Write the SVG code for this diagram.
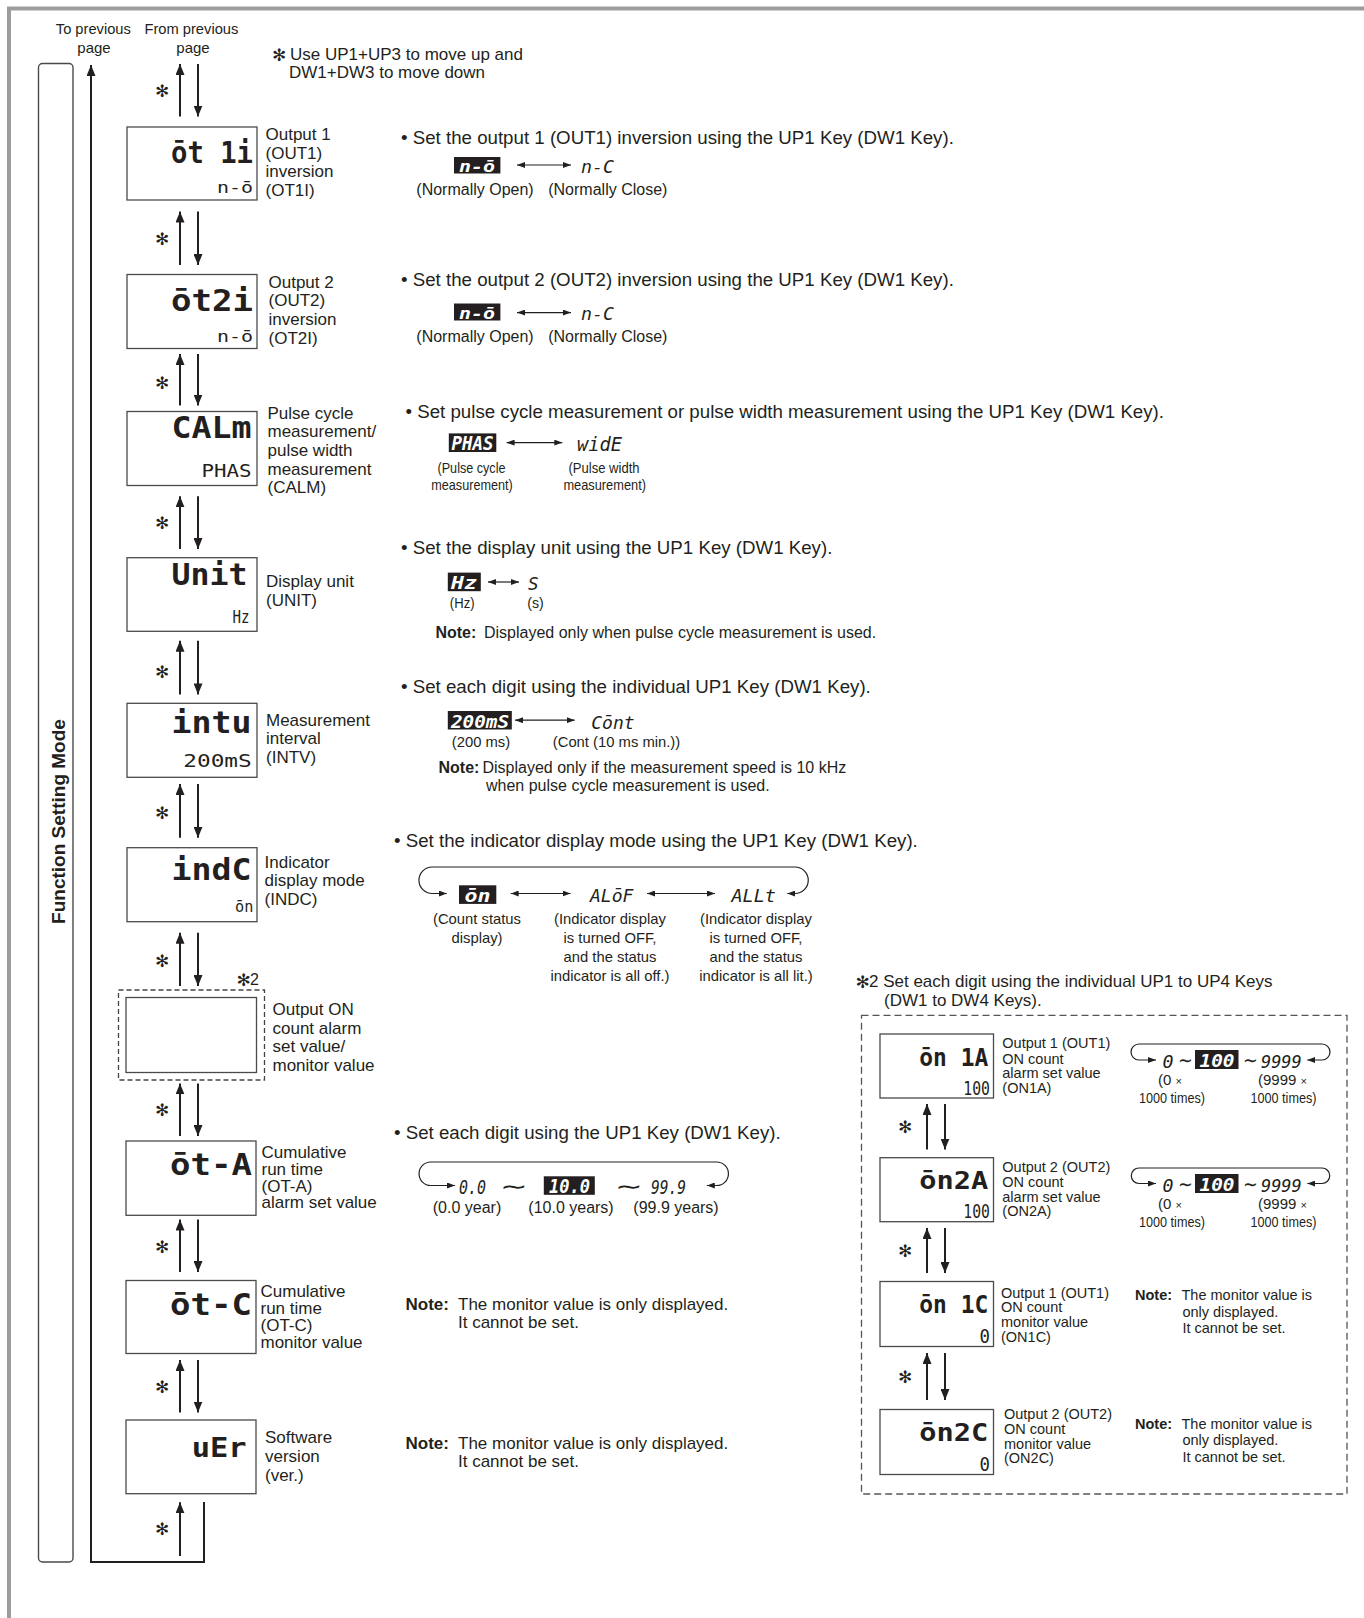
<svg xmlns="http://www.w3.org/2000/svg" width="1364" height="1618" viewBox="0 0 1364 1618">
<defs>
<marker id="ah" markerUnits="userSpaceOnUse" markerWidth="11" markerHeight="9" refX="11" refY="4.5" orient="auto"><path d="M0,0 L11,4.5 L0,9 z" fill="#231f20"/></marker>
<marker id="sh" markerUnits="userSpaceOnUse" markerWidth="8" markerHeight="6" refX="8" refY="3" orient="auto-start-reverse"><path d="M0,0 L8,3 L0,6 z" fill="#231f20"/></marker>
<style>
.t{font-family:"Liberation Sans",Arial,sans-serif;fill:#231f20}
.h{font-size:18.7px}
.lb{font-size:17px}
.c16{font-size:16px}
.c15{font-size:15px}
.c14{font-size:14.8px}
.r{font-size:14.5px}
.b{font-weight:bold}
.m{text-anchor:middle}
.ast{font-family:"DejaVu Sans",sans-serif;fill:#231f20;font-size:17px;text-anchor:middle}
.lcd{font-family:"DejaVu Sans Mono",monospace;font-weight:bold;fill:#231f20}
.ls{font-weight:normal}
.it{font-style:italic}
.w{fill:#fff}
.box{fill:#fff;stroke:#4a4a4a;stroke-width:1.3}
.inv{fill:#231f20}
.arr{stroke:#231f20;stroke-width:2;fill:none;marker-end:url(#ah)}
.sa{stroke:#231f20;stroke-width:1.2;fill:none;marker-start:url(#sh);marker-end:url(#sh)}
.dash{fill:none;stroke:#444;stroke-width:1.3;stroke-dasharray:5 3}
.dash2{fill:none;stroke:#555;stroke-width:1.3;stroke-dasharray:7 4}
</style>
</defs>
<rect width="1364" height="1618" fill="#fff"/>
<path d="M9,1618 V8.5 H1364" stroke="#9d9d9d" stroke-width="4" fill="none"/>

<g id="mode-bar">
<rect x="38.5" y="63.5" width="34.5" height="1498.5" rx="4" fill="none" stroke="#4a4a4a" stroke-width="1.4"/>
<text class="t b" font-size="19" text-anchor="middle" transform="translate(64.5,821.5) rotate(-90)">Function Setting Mode</text>
</g>

<g id="header-text">
<text class="t c15 m" x="93.3" y="33.5" textLength="75" lengthAdjust="spacingAndGlyphs">To previous</text>
<text class="t c15 m" x="94" y="53">page</text>
<text class="t c15 m" x="191.4" y="33.5" textLength="94" lengthAdjust="spacingAndGlyphs">From previous</text>
<text class="t c15 m" x="193" y="53">page</text>
<text class="ast" x="279" y="60.5" font-size="17">✻</text>
<text class="t lb" x="290" y="60">Use UP1+UP3 to move up and</text>
<text class="t lb" x="289" y="78">DW1+DW3 to move down</text>
</g>

<g id="connectors">
<path class="arr" d="M204,1502 V1562 H91 V65"/>
<line class="arr" x1="180" y1="116.6" x2="180" y2="64"/>
<line class="arr" x1="198" y1="64" x2="198" y2="116.6"/>
<line class="arr" x1="180" y1="265" x2="180" y2="211.5"/>
<line class="arr" x1="198" y1="211.5" x2="198" y2="265"/>
<line class="arr" x1="180" y1="405.5" x2="180" y2="354"/>
<line class="arr" x1="198" y1="354" x2="198" y2="405.5"/>
<line class="arr" x1="180" y1="549" x2="180" y2="496.3"/>
<line class="arr" x1="198" y1="496.3" x2="198" y2="549"/>
<line class="arr" x1="180" y1="694.4" x2="180" y2="640.7"/>
<line class="arr" x1="198" y1="640.7" x2="198" y2="694.4"/>
<line class="arr" x1="180" y1="837.8" x2="180" y2="784"/>
<line class="arr" x1="198" y1="784" x2="198" y2="837.8"/>
<line class="arr" x1="180" y1="986" x2="180" y2="932.7"/>
<line class="arr" x1="198" y1="932.7" x2="198" y2="986"/>
<line class="arr" x1="180" y1="1136" x2="180" y2="1083.4"/>
<line class="arr" x1="198" y1="1083.4" x2="198" y2="1136"/>
<line class="arr" x1="180" y1="1272" x2="180" y2="1219.5"/>
<line class="arr" x1="198" y1="1219.5" x2="198" y2="1272"/>
<line class="arr" x1="180" y1="1412.5" x2="180" y2="1360"/>
<line class="arr" x1="198" y1="1360" x2="198" y2="1412.5"/>
<line class="arr" x1="180" y1="1556" x2="180" y2="1502.3"/>
<line class="arr" x1="927" y1="1149.5" x2="927" y2="1104"/>
<line class="arr" x1="945" y1="1104" x2="945" y2="1149.5"/>
<line class="arr" x1="927" y1="1273" x2="927" y2="1228"/>
<line class="arr" x1="945" y1="1228" x2="945" y2="1273"/>
<line class="arr" x1="927" y1="1400" x2="927" y2="1353"/>
<line class="arr" x1="945" y1="1353" x2="945" y2="1400"/>
<g class="ast">
<text x="162" y="97">✻</text><text x="162" y="244.5">✻</text><text x="162" y="389">✻</text><text x="162" y="529">✻</text>
<text x="162" y="678">✻</text><text x="162" y="819">✻</text><text x="162" y="967">✻</text><text x="162" y="1116">✻</text>
<text x="162" y="1252.5">✻</text><text x="162" y="1393">✻</text><text x="162" y="1535">✻</text>
<text x="905" y="1133">✻</text><text x="905" y="1256.5">✻</text><text x="905" y="1382.5">✻</text>
</g>
</g>

<g id="n-ot1i">
<rect class="box" x="127" y="127" width="130" height="73"/>
<text class="lcd" x="171" y="163" font-size="30" textLength="82" lengthAdjust="spacingAndGlyphs">ōt 1i</text>
<text class="lcd ls" x="217" y="193" font-size="15" textLength="36" lengthAdjust="spacingAndGlyphs">n-ō</text>
<text class="t lb" x="265.5" y="140">Output 1</text>
<text class="t lb" x="265.5" y="158.6">(OUT1)</text>
<text class="t lb" x="265.5" y="177.2">inversion</text>
<text class="t lb" x="265.5" y="195.8">(OT1I)</text>
</g>
<g id="n-ot2i">
<rect class="box" x="127" y="274.5" width="130" height="74"/>
<text class="lcd" x="171" y="311" font-size="30" textLength="82" lengthAdjust="spacingAndGlyphs">ōt2i</text>
<text class="lcd ls" x="217" y="341.5" font-size="15" textLength="36" lengthAdjust="spacingAndGlyphs">n-ō</text>
<text class="t lb" x="268.5" y="287.7">Output 2</text>
<text class="t lb" x="268.5" y="306.3">(OUT2)</text>
<text class="t lb" x="268.5" y="324.9">inversion</text>
<text class="t lb" x="268.5" y="343.5">(OT2I)</text>
</g>
<g id="n-calm">
<rect class="box" x="127" y="411.5" width="130" height="74"/>
<text class="lcd" x="171.5" y="438.3" font-size="30" textLength="80" lengthAdjust="spacingAndGlyphs">CALm</text>
<text class="lcd ls" x="201.5" y="477.3" font-size="18" textLength="50" lengthAdjust="spacingAndGlyphs">PHAS</text>
<text class="t lb" x="267.5" y="418.7">Pulse cycle</text>
<text class="t lb" x="267.5" y="437.3">measurement/</text>
<text class="t lb" x="267.5" y="455.9">pulse width</text>
<text class="t lb" x="267.5" y="474.5">measurement</text>
<text class="t lb" x="267.5" y="493.1">(CALM)</text>
</g>
<g id="n-unit">
<rect class="box" x="127" y="557.7" width="130" height="73.6"/>
<text class="lcd" x="171.5" y="585" font-size="30" textLength="76" lengthAdjust="spacingAndGlyphs">Unit</text>
<text class="lcd ls" x="232.5" y="623.3" font-size="18" textLength="17" lengthAdjust="spacingAndGlyphs">Hz</text>
<text class="t lb" x="266" y="586.9">Display unit</text>
<text class="t lb" x="266" y="605.5">(UNIT)</text>
</g>
<g id="n-intv">
<rect class="box" x="127" y="703.3" width="130" height="74"/>
<text class="lcd" x="171.5" y="733.3" font-size="30" textLength="80" lengthAdjust="spacingAndGlyphs">intu</text>
<text class="lcd ls" x="183.3" y="767.3" font-size="18" textLength="68.4" lengthAdjust="spacingAndGlyphs">200mS</text>
<text class="t lb" x="266" y="725.5">Measurement</text>
<text class="t lb" x="266" y="744">interval</text>
<text class="t lb" x="266" y="762.5">(INTV)</text>
</g>
<g id="n-indc">
<rect class="box" x="127" y="847.7" width="130" height="74"/>
<text class="lcd" x="171.5" y="880" font-size="30" textLength="80" lengthAdjust="spacingAndGlyphs">indC</text>
<text class="lcd ls" x="235" y="911.7" font-size="16" textLength="18.3" lengthAdjust="spacingAndGlyphs">ōn</text>
<text class="t lb" x="264.5" y="867.6">Indicator</text>
<text class="t lb" x="264.5" y="886.2">display mode</text>
<text class="t lb" x="264.5" y="904.8">(INDC)</text>
</g>
<g id="n-onc">
<rect class="dash" x="118.5" y="990" width="146" height="90"/>
<rect class="box" x="126" y="997.5" width="130.5" height="75"/>
<text class="ast" x="243.5" y="985.5" font-size="16">✻</text>
<text class="t c16" x="250" y="985">2</text>
<text class="t lb" x="272.5" y="1015">Output ON</text>
<text class="t lb" x="272.5" y="1033.6">count alarm</text>
<text class="t lb" x="272.5" y="1052.2">set value/</text>
<text class="t lb" x="272.5" y="1070.8">monitor value</text>
</g>
<g id="n-ota">
<rect class="box" x="126" y="1141" width="130" height="74.3"/>
<text class="lcd" x="170" y="1175" font-size="30" textLength="82" lengthAdjust="spacingAndGlyphs">ōt-A</text>
<text class="t lb" x="261.5" y="1157.5">Cumulative</text>
<text class="t lb" x="261.5" y="1174.5">run time</text>
<text class="t lb" x="261.5" y="1191.5">(OT-A)</text>
<text class="t lb" x="261.5" y="1208.3">alarm set value</text>
</g>
<g id="n-otc">
<rect class="box" x="126" y="1280.5" width="130" height="73"/>
<text class="lcd" x="170" y="1314.5" font-size="30" textLength="82" lengthAdjust="spacingAndGlyphs">ōt-C</text>
<text class="t lb" x="260.5" y="1297">Cumulative</text>
<text class="t lb" x="260.5" y="1314">run time</text>
<text class="t lb" x="260.5" y="1331">(OT-C)</text>
<text class="t lb" x="260.5" y="1347.5">monitor value</text>
</g>
<g id="n-ver">
<rect class="box" x="126" y="1420" width="130" height="73.7"/>
<text class="lcd" x="191.7" y="1456.7" font-size="26" textLength="55" lengthAdjust="spacingAndGlyphs">uEr</text>
<text class="t lb" x="265" y="1443.3">Software</text>
<text class="t lb" x="265" y="1462">version</text>
<text class="t lb" x="265" y="1480.7">(ver.)</text>
</g>

<g id="s-ot1i">
<text class="t h" x="401" y="143.5">• Set the output 1 (OUT1) inversion using the UP1 Key (DW1 Key).</text>
<rect class="inv" x="454" y="157" width="46.4" height="16.5"/>
<text class="lcd it w" x="459" y="171.5" font-size="16" textLength="36" lengthAdjust="spacingAndGlyphs">n-ō</text>
<line class="sa" x1="517" y1="165" x2="571" y2="165"/>
<text class="lcd ls it" x="581" y="172.5" font-size="17" textLength="33" lengthAdjust="spacingAndGlyphs">n-C</text>
<text class="t c16 m" x="475" y="194.5">(Normally Open)</text>
<text class="t c16 m" x="607.8" y="194.5">(Normally Close)</text>
</g>
<g id="s-ot2i">
<text class="t h" x="401" y="286">• Set the output 2 (OUT2) inversion using the UP1 Key (DW1 Key).</text>
<rect class="inv" x="454" y="303.5" width="46.4" height="17"/>
<text class="lcd it w" x="459" y="318.5" font-size="16" textLength="36" lengthAdjust="spacingAndGlyphs">n-ō</text>
<line class="sa" x1="517" y1="312.6" x2="571" y2="312.6"/>
<text class="lcd ls it" x="581" y="320" font-size="17" textLength="33" lengthAdjust="spacingAndGlyphs">n-C</text>
<text class="t c16 m" x="475" y="342">(Normally Open)</text>
<text class="t c16 m" x="607.8" y="342">(Normally Close)</text>
</g>
<g id="s-calm">
<text class="t h" x="405.5" y="418">• Set pulse cycle measurement or pulse width measurement using the UP1 Key (DW1 Key).</text>
<rect class="inv" x="448.8" y="433.4" width="47.5" height="18.6"/>
<text class="lcd it w" x="451.5" y="450" font-size="19" textLength="42" lengthAdjust="spacingAndGlyphs">PHAS</text>
<line class="sa" x1="506.6" y1="442.6" x2="562.3" y2="442.6"/>
<text class="lcd ls it" x="577" y="451" font-size="19" textLength="45" lengthAdjust="spacingAndGlyphs">widE</text>
<text class="t c15 m" x="471.5" y="472.5" textLength="68" lengthAdjust="spacingAndGlyphs">(Pulse cycle</text>
<text class="t c15 m" x="472" y="490" textLength="81.5" lengthAdjust="spacingAndGlyphs">measurement)</text>
<text class="t c15 m" x="604" y="472.5" textLength="71" lengthAdjust="spacingAndGlyphs">(Pulse width</text>
<text class="t c15 m" x="604.7" y="490" textLength="82.6" lengthAdjust="spacingAndGlyphs">measurement)</text>
</g>
<g id="s-unit">
<text class="t h" x="401" y="554.3">• Set the display unit using the UP1 Key (DW1 Key).</text>
<rect class="inv" x="447.8" y="572.6" width="33" height="18.6"/>
<text class="lcd it w" x="451" y="589" font-size="18" textLength="26" lengthAdjust="spacingAndGlyphs">Hz</text>
<line class="sa" x1="488" y1="582" x2="519" y2="582"/>
<text class="lcd ls it" x="528" y="590" font-size="18" textLength="10.6" lengthAdjust="spacingAndGlyphs">S</text>
<text class="t c15 m" x="462.2" y="608" textLength="24.7" lengthAdjust="spacingAndGlyphs">(Hz)</text>
<text class="t c15 m" x="535.5" y="608" textLength="16.5" lengthAdjust="spacingAndGlyphs">(s)</text>
<text class="t c16" x="435.4" y="638"><tspan class="b">Note:</tspan><tspan x="484">Displayed only when pulse cycle measurement is used.</tspan></text>
</g>
<g id="s-intv">
<text class="t h" x="401" y="692.5">• Set each digit using the individual UP1 Key (DW1 Key).</text>
<rect class="inv" x="447.8" y="711" width="64" height="18.5"/>
<text class="lcd it w" x="451" y="727.5" font-size="18" textLength="58" lengthAdjust="spacingAndGlyphs">200mS</text>
<line class="sa" x1="515" y1="720.2" x2="574.7" y2="720.2"/>
<text class="lcd ls it" x="591.2" y="728.5" font-size="18" textLength="43.4" lengthAdjust="spacingAndGlyphs">Cōnt</text>
<text class="t c14 m" x="481" y="746.5">(200 ms)</text>
<text class="t c14 m" x="616.5" y="746.5">(Cont (10 ms min.))</text>
<text class="t c16" x="438.5" y="773.3"><tspan class="b">Note:</tspan><tspan x="482.5">Displayed only if the measurement speed is 10 kHz</tspan></text>
<text class="t c16" x="486" y="791">when pulse cycle measurement is used.</text>
</g>
<g id="s-indc">
<text class="t h" x="394" y="847.3">• Set the indicator display mode using the UP1 Key (DW1 Key).</text>
<path class="sa" d="M787.3,893.5 H795 A13.25,13.25 0 0 0 795,867 H432.2 A13.25,13.25 0 0 0 432.2,893.5 H446.8"/>
<rect class="inv" x="459" y="885.3" width="37.3" height="18.6"/>
<text class="lcd it w" x="464.5" y="901.5" font-size="17" textLength="26" lengthAdjust="spacingAndGlyphs">ōn</text>
<line class="sa" x1="510.7" y1="893.5" x2="570.6" y2="893.5"/>
<text class="lcd ls it" x="590" y="902" font-size="18" textLength="43.5" lengthAdjust="spacingAndGlyphs">ALōF</text>
<line class="sa" x1="647" y1="893.5" x2="715" y2="893.5"/>
<text class="lcd ls it" x="731.5" y="902" font-size="18" textLength="44.5" lengthAdjust="spacingAndGlyphs">ALLt</text>
<g class="t c14 m">
<text x="477" y="923.8">(Count status</text>
<text x="477" y="943.4">display)</text>
<text x="610" y="923.8">(Indicator display</text>
<text x="610" y="943.4">is turned OFF,</text>
<text x="610" y="962">and the status</text>
<text x="610" y="980.5">indicator is all off.)</text>
<text x="756" y="923.8">(Indicator display</text>
<text x="756" y="943.4">is turned OFF,</text>
<text x="756" y="962">and the status</text>
<text x="756" y="980.5">indicator is all lit.)</text>
</g>
</g>
<g id="s-ota">
<text class="t h" x="394" y="1139.3">• Set each digit using the UP1 Key (DW1 Key).</text>
<path class="sa" d="M706.8,1185.5 H716.7 A11.75,11.75 0 0 0 716.7,1162 H430.8 A11.75,11.75 0 0 0 430.8,1185.5 H455"/>
<text class="lcd ls it" x="459" y="1194" font-size="19" textLength="27" lengthAdjust="spacingAndGlyphs">0.0</text>
<text class="t m" x="513.5" y="1194" font-size="22" textLength="27" lengthAdjust="spacingAndGlyphs">∼</text>
<rect class="inv" x="543.8" y="1176.3" width="51" height="18.5"/>
<text class="lcd it w" x="549" y="1193" font-size="19" textLength="41" lengthAdjust="spacingAndGlyphs">10.0</text>
<text class="t m" x="628.5" y="1194" font-size="22" textLength="27" lengthAdjust="spacingAndGlyphs">∼</text>
<text class="lcd ls it" x="651" y="1194" font-size="19" textLength="35" lengthAdjust="spacingAndGlyphs">99.9</text>
<text class="t c16 m" x="467" y="1213">(0.0 year)</text>
<text class="t c16 m" x="571" y="1213">(10.0 years)</text>
<text class="t c16 m" x="676" y="1213">(99.9 years)</text>
</g>
<g id="s-otc">
<text class="t lb" x="405.5" y="1310"><tspan class="b">Note:</tspan><tspan x="458">The monitor value is only displayed.</tspan></text>
<text class="t lb" x="458" y="1327.7">It cannot be set.</text>
</g>
<g id="s-ver">
<text class="t lb" x="405.5" y="1448.5"><tspan class="b">Note:</tspan><tspan x="458">The monitor value is only displayed.</tspan></text>
<text class="t lb" x="458" y="1467">It cannot be set.</text>
</g>

<g id="panel-onc">
<text class="ast" x="862.5" y="987.5" font-size="16">✻</text>
<text class="t lb" x="869" y="987">2 Set each digit using the individual UP1 to UP4 Keys</text>
<text class="t lb" x="884" y="1005.8">(DW1 to DW4 Keys).</text>
<rect class="dash2" x="861.5" y="1015.3" width="485.5" height="478.7"/>
</g>
<g id="n-on1a">
<rect class="box" x="880" y="1034" width="113.5" height="64"/>
<text class="lcd" x="919.3" y="1065.5" font-size="24" textLength="69" lengthAdjust="spacingAndGlyphs">ōn 1A</text>
<text class="lcd ls" x="963.3" y="1094.5" font-size="19" textLength="26.7" lengthAdjust="spacingAndGlyphs">100</text>
<g class="t r"><text x="1002.3" y="1048">Output 1 (OUT1)</text><text x="1002.3" y="1063.5">ON count</text><text x="1002.3" y="1078">alarm set value</text><text x="1002.3" y="1092.5">(ON1A)</text></g>
</g>
<g id="s-on1a">
<path class="sa" d="M1307.3,1060 H1322 A8,8 0 0 0 1322,1044 H1139 A8,8 0 0 0 1139,1060 H1156"/>
<text class="lcd ls it" x="1162.5" y="1068" font-size="18" textLength="11" lengthAdjust="spacingAndGlyphs">0</text>
<text class="t m" x="1185" y="1067" font-size="20" textLength="15" lengthAdjust="spacingAndGlyphs">∼</text>
<rect class="inv" x="1195" y="1050" width="43.5" height="19"/>
<text class="lcd it w" x="1199.5" y="1067" font-size="18" textLength="35" lengthAdjust="spacingAndGlyphs">100</text>
<text class="t m" x="1250" y="1067" font-size="20" textLength="15" lengthAdjust="spacingAndGlyphs">∼</text>
<text class="lcd ls it" x="1261" y="1068" font-size="18" textLength="40.7" lengthAdjust="spacingAndGlyphs">9999</text>
<text class="t c15 m" x="1170" y="1085">(0 <tspan font-size="11">×</tspan></text>
<text class="t c15 m" x="1172" y="1103" textLength="66" lengthAdjust="spacingAndGlyphs">1000 times)</text>
<text class="t c15 m" x="1282.5" y="1085">(9999 <tspan font-size="11">×</tspan></text>
<text class="t c15 m" x="1283.5" y="1103" textLength="66" lengthAdjust="spacingAndGlyphs">1000 times)</text>
</g>
<g id="n-on2a">
<rect class="box" x="880" y="1157.7" width="113.5" height="64"/>
<text class="lcd" x="919.3" y="1189.2" font-size="24" textLength="69" lengthAdjust="spacingAndGlyphs">ōn2A</text>
<text class="lcd ls" x="963.3" y="1218.2" font-size="19" textLength="26.7" lengthAdjust="spacingAndGlyphs">100</text>
<g class="t r"><text x="1002.3" y="1172">Output 2 (OUT2)</text><text x="1002.3" y="1187.4">ON count</text><text x="1002.3" y="1202">alarm set value</text><text x="1002.3" y="1216.3">(ON2A)</text></g>
</g>
<g id="s-on2a">
<path class="sa" d="M1307.3,1183.5 H1322 A7.75,7.75 0 0 0 1322,1168 H1139 A7.75,7.75 0 0 0 1139,1183.5 H1156"/>
<text class="lcd ls it" x="1162.5" y="1191.5" font-size="18" textLength="11" lengthAdjust="spacingAndGlyphs">0</text>
<text class="t m" x="1185" y="1190.5" font-size="20" textLength="15" lengthAdjust="spacingAndGlyphs">∼</text>
<rect class="inv" x="1195" y="1174" width="43.5" height="19"/>
<text class="lcd it w" x="1199.5" y="1191" font-size="18" textLength="35" lengthAdjust="spacingAndGlyphs">100</text>
<text class="t m" x="1250" y="1190.5" font-size="20" textLength="15" lengthAdjust="spacingAndGlyphs">∼</text>
<text class="lcd ls it" x="1261" y="1191.5" font-size="18" textLength="40.7" lengthAdjust="spacingAndGlyphs">9999</text>
<text class="t c15 m" x="1170" y="1209">(0 <tspan font-size="11">×</tspan></text>
<text class="t c15 m" x="1172" y="1227" textLength="66" lengthAdjust="spacingAndGlyphs">1000 times)</text>
<text class="t c15 m" x="1282.5" y="1209">(9999 <tspan font-size="11">×</tspan></text>
<text class="t c15 m" x="1283.5" y="1227" textLength="66" lengthAdjust="spacingAndGlyphs">1000 times)</text>
</g>
<g id="n-on1c">
<rect class="box" x="880" y="1281.5" width="113.5" height="65"/>
<text class="lcd" x="919.3" y="1313" font-size="24" textLength="69" lengthAdjust="spacingAndGlyphs">ōn 1C</text>
<text class="lcd ls" x="979.5" y="1342.5" font-size="19" textLength="10.5" lengthAdjust="spacingAndGlyphs">0</text>
<g class="t r"><text x="1001" y="1298">Output 1 (OUT1)</text><text x="1001" y="1312.3">ON count</text><text x="1001" y="1327">monitor value</text><text x="1001" y="1342">(ON1C)</text></g>
</g>
<g id="s-on1c" class="t r">
<text x="1135" y="1300"><tspan class="b">Note:</tspan><tspan x="1181.5">The monitor value is</tspan></text>
<text x="1182.4" y="1317">only displayed.</text>
<text x="1182.4" y="1333">It cannot be set.</text>
</g>
<g id="n-on2c">
<rect class="box" x="880" y="1409.5" width="113.5" height="65"/>
<text class="lcd" x="919.3" y="1441" font-size="24" textLength="69" lengthAdjust="spacingAndGlyphs">ōn2C</text>
<text class="lcd ls" x="979.5" y="1470.5" font-size="19" textLength="10.5" lengthAdjust="spacingAndGlyphs">0</text>
<g class="t r"><text x="1004" y="1418.6">Output 2 (OUT2)</text><text x="1004" y="1434">ON count</text><text x="1004" y="1448.5">monitor value</text><text x="1004" y="1463">(ON2C)</text></g>
</g>
<g id="s-on2c" class="t r">
<text x="1135" y="1429"><tspan class="b">Note:</tspan><tspan x="1181.5">The monitor value is</tspan></text>
<text x="1182.4" y="1445">only displayed.</text>
<text x="1182.4" y="1462">It cannot be set.</text>
</g>
</svg>
